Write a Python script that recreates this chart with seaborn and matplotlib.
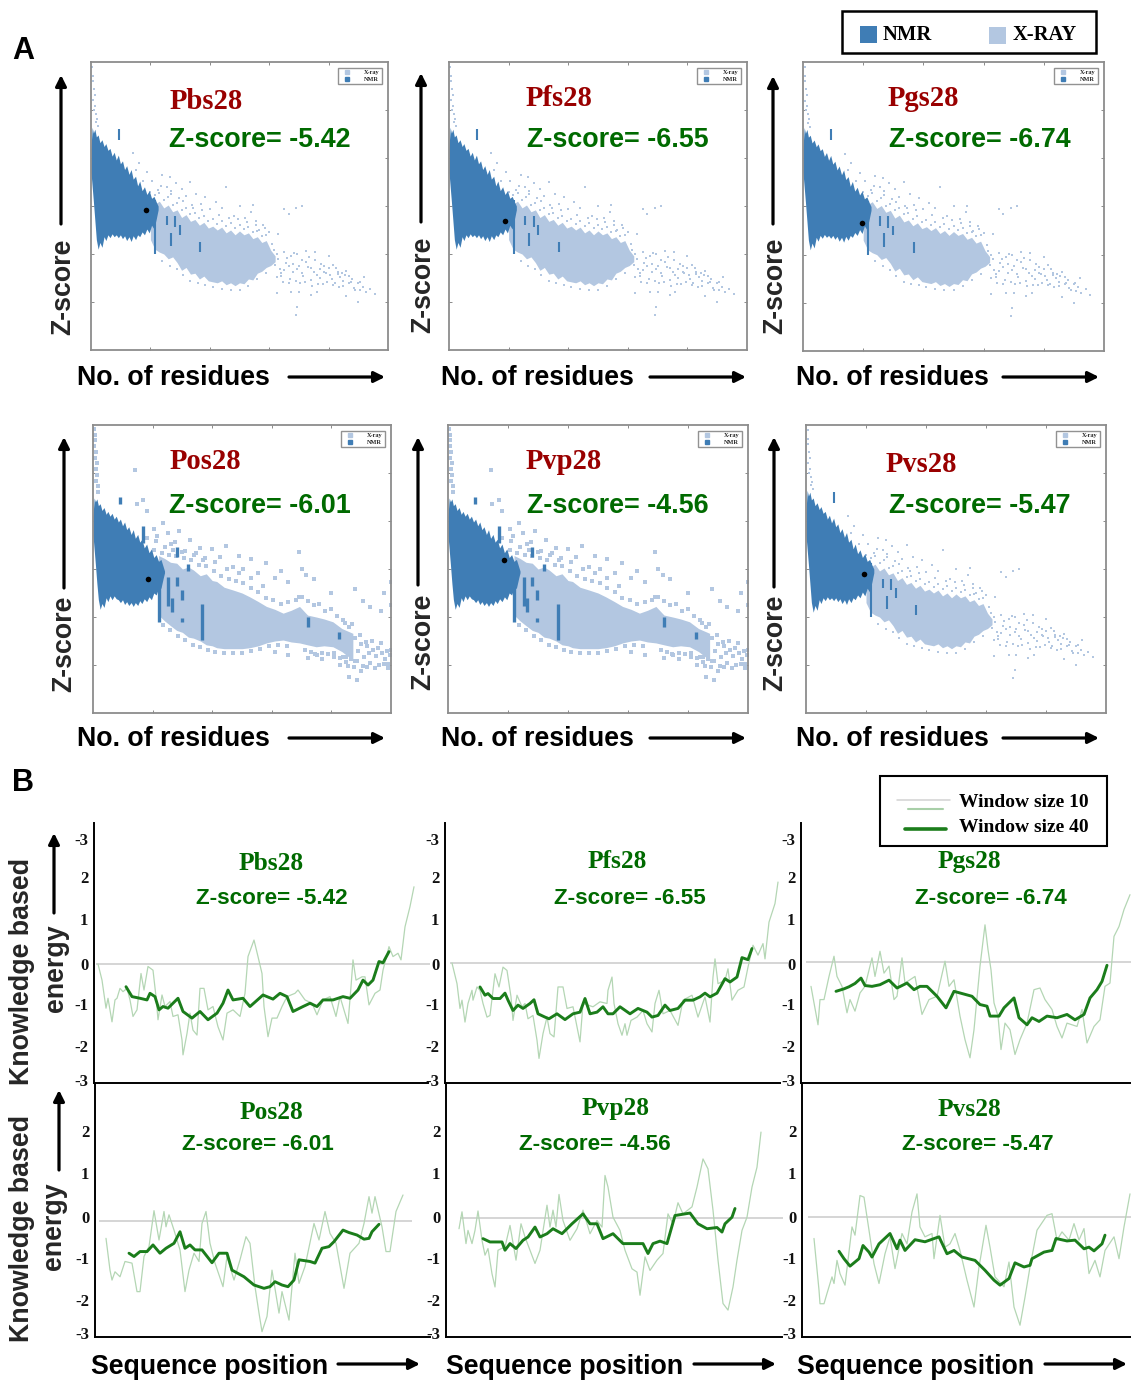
import matplotlib
matplotlib.use("Agg")
import matplotlib.pyplot as plt
import seaborn as sns
from matplotlib.lines import Line2D
from matplotlib.patches import Rectangle

# ---- panel A : Z-score vs no. of residues ----
# thin cloud (Pbs, Pfs, Pgs, Pvs)
nmr_x = [0,4,8,13,18,24,30,37,44,50,57,64,71,78,85,92,99,106,113,120,128,135,142,150,157,164,172,180,188,196,204,212,220,226]
nmr_up = [1.0,3.2,2.6,3.0,2.2,2.4,1.6,1.9,1.2,1.5,0.8,1.0,0.2,0.6,-0.2,0.3,-0.6,-0.3,-1.2,-0.8,-1.7,-1.2,-2.2,-1.9,-2.9,-2.4,-3.4,-3.0,-3.8,-3.4,-4.2,-4.0,-4.6,-5.0]
nmr_lo = [-1.5,-3,-4.5,-6.5,-8.5,-9.5,-8.8,-9.3,-8.2,-8.6,-8.0,-8.3,-7.9,-8.2,-8.0,-8.3,-8.0,-8.4,-8.1,-8.6,-8.2,-8.7,-8.1,-8.5,-8.0,-8.2,-7.7,-8.0,-7.4,-7.8,-7.0,-7.4,-6.3,-5.4]
xray_x = [200,215,230,245,260,275,290,305,320,335,350,365,380,395,410,425,440,455,470,485,500,515,530,545,560,575,590,605,620]
xray_up = [-4.3,-4.8,-4.5,-5.2,-4.9,-5.6,-5.4,-6.2,-5.9,-6.6,-6.4,-7.0,-6.7,-7.3,-7.1,-7.5,-7.2,-7.8,-7.5,-8.0,-7.6,-8.0,-7.8,-8.4,-8.2,-8.8,-8.6,-9.6,-10.2]
xray_lo = [-8.5,-9.5,-9.8,-10.0,-10.5,-10.3,-10.9,-11.7,-11.4,-12.1,-12.0,-12.6,-12.3,-12.8,-12.9,-13.0,-12.8,-13.2,-13.0,-13.3,-13.0,-13.1,-12.6,-12.7,-12.0,-11.8,-11.4,-11.2,-10.8]
sparse_x = [5,8,6,10,12,8,14,10,16,20,18,24,140,160,190,205,225,240,255,265,270,285,295,305,320,335,340,355,370,385,400,420,440,455,480,500,520,540,545,555,565,580,600,630,650,665,690,710,600,610,625,640,650,665,680,695,710,725,740,755,770,785,800,815,830,850,870,885,900,900,675,625,700,740,760,690,695,906,920,860]
sparse_z = [9.5,8.5,8,7.2,6.6,6,5.4,5,4.6,4.1,3.7,3.3,0.5,-0.5,-1.5,-2.4,-3.3,-1.8,-3.0,-2.0,-3.8,-2.6,-4.2,-3.2,-4.0,-2.5,-4.9,-3.7,-4.8,-4.1,-5.3,-4.6,-5.2,-3.0,-6.0,-5.0,-6.3,-5.6,-4.9,-6.6,-7.5,-7.0,-7.7,-7.9,-5.3,-5.8,-5.2,-5.0,-11,-9,-10,-12,-9.8,-13,-11,-10,-12,-9.7,-11.5,-10.6,-12.5,-11.3,-10.2,-13.2,-12.1,-12.8,-12.3,-13.5,-15,-13,-14,-14.1,-14,-14.3,-14,-16.4,-15.5,-13.8,-12.4,-14.4]
tail_x = [610,620,630,640,650,660,670,680,690,700,710,720,730,740,750,760,770,780,790,800,810,820,830,840,850,860,870,880,890,905,915,925,940,955,615,635,655,675,695,715,735,755,775,795,815,835,855,875,625,645,665,685,705,725,745,765,785,805,825,845]
tail_z = [-10.2,-11.1,-10.5,-12.3,-11.7,-10.4,-12.6,-11.9,-12.8,-11.2,-10.6,-12.9,-11.4,-12.7,-11.9,-12.2,-11.6,-13.1,-12.0,-11.5,-12.6,-13.0,-11.9,-12.4,-13.3,-11.8,-13.0,-12.6,-13.7,-12.9,-13.4,-14.0,-13.6,-14.2,-9.6,-11.6,-10.9,-10.2,-11.6,-12.3,-10.3,-9.8,-11.0,-12.9,-11.1,-13.4,-12.2,-12.9,-12.4,-12.9,-11.3,-9.9,-13.0,-10.8,-13.3,-13.1,-11.9,-12.2,-11.5,-12.0]
fringe_x = [150,175,200,215,230,245,260,275,290,305,320,335,350,365,380,395,410,425,440,455,470,485,500,515,530,545,560,575,590,235,270,310,345,375,430,465,495,525,555,585,240,265,290,310,335,360,385,410,440,470,500,530,560,590]
fringe_z = [-1.2,-2.4,-3.5,-3.9,-3.6,-4.4,-4.1,-4.9,-4.7,-5.4,-5.2,-5.8,-5.7,-6.3,-6.0,-6.6,-6.4,-6.9,-6.6,-7.1,-6.8,-7.3,-7.0,-7.4,-7.2,-7.7,-7.6,-8.1,-8.0,-2.9,-3.4,-4.5,-5.2,-5.4,-5.9,-6.2,-6.4,-6.7,-7.0,-7.3,-10.7,-11.2,-11.6,-12.2,-12.8,-13.0,-13.2,-13.4,-13.6,-13.7,-13.7,-13.3,-12.6,-12.0]
bar_x = [93,217,256,284,300,270,368]
bar_lo = [1.9,-10,-7,-7.2,-8,-9.2,-9.8]
bar_hi = [3.0,-4.4,-6,-6,-7,-7.8,-8.7]

# thick cloud (Pos, Pvp)
nmr2_x = [0,4,8,13,18,24,30,37,44,50,57,64,71,78,85,92,99,106,113,120,128,135,142,150,157,164,172,180,188,196,204,212,220,228,236,240]
nmr2_up = [0.5,2.4,2.0,2.3,1.6,1.8,1.1,1.4,0.7,1.0,0.5,0.8,0.2,0.5,-0.1,0.2,-0.5,-0.1,-0.9,-0.6,-1.4,-0.9,-1.8,-1.4,-2.2,-1.9,-2.8,-2.4,-3.3,-2.9,-3.8,-3.5,-4.2,-4.0,-4.8,-5.2]
nmr2_lo = [-1.5,-3,-4.5,-6.5,-8.2,-9.2,-8.6,-9.0,-8.0,-8.4,-7.8,-8.2,-7.8,-8.1,-8.2,-8.5,-8.2,-8.7,-8.4,-8.8,-8.5,-8.9,-8.5,-8.8,-8.3,-8.6,-8.1,-8.4,-7.9,-8.2,-7.5,-7.7,-7.0,-7.0,-5.9,-5.4]
xray2_x = [220,240,260,281,300,320,337,360,380,400,415,440,471,500,526,555,582,610,638,665,693,720,749,775,805,835,872]
xray2_up = [-3.6,-3.9,-4.3,-4.4,-5.0,-4.8,-5.1,-5.7,-5.5,-6.2,-6.3,-6.9,-7.2,-7.5,-7.9,-8.4,-8.9,-9.2,-9.6,-9.3,-8.9,-9.8,-10.0,-10.2,-10.5,-11.2,-11.7]
xray2_lo = [-9.8,-10.4,-10.9,-11.4,-11.6,-12.1,-12.2,-12.5,-12.9,-13.0,-13.2,-13.3,-13.3,-13.3,-13.2,-13.0,-12.7,-12.5,-12.4,-12.6,-12.7,-12.9,-13.1,-13.0,-13.1,-13.6,-14.5]
sparse2_x = [4,6,8,5,10,7,12,9,14,11,16,18,142,169,148,180,205,215,235,250,262,275,290,310,325,345,360,375,400,425,445,470,490,505,530,555,580,610,630,655,690,700,715,740,800,880,905,930,965,975,1000,1000,610,655,720,745,770,810,830,850,880,900,920,860,885,990,1000]
sparse2_z = [9.6,9,8.4,7.8,7.2,6.6,6,5.4,4.8,4.2,3.6,3.0,5.3,2.2,1.8,1.0,-0.8,-1.6,-0.2,-1.2,-2.4,-2.2,-1.0,-3.1,-2.0,-3.3,-2.8,-3.9,-2.9,-3.7,-2.6,-4.8,-3.6,-5.0,-4.0,-5.4,-4.4,-5.9,-5.2,-6.4,-3.2,-5.0,-5.6,-6.0,-7.5,-7.1,-8.3,-9.0,-9.4,-7.5,-8.8,-6.4,-13.6,-14.0,-14.3,-13.9,-14.4,-14.2,-15.0,-14.2,-14.6,-15.6,-15.2,-16.2,-16.6,-14.9,-13.4]
tail2_x = [880,890,900,910,920,930,940,950,960,970,980,990,885,895,905,915,925,935,945,955,965,975,985,995,840,850,860,870,845,855,865,875,700,720,740,760,780,800,820,840,710,730,750,770,790,810,830]
tail2_z = [-12.2,-13.5,-12.8,-14.2,-13.0,-14.8,-13.4,-14.1,-15.0,-13.7,-14.4,-15.3,-14.6,-11.9,-15.1,-12.6,-13.8,-12.5,-15.3,-13.2,-12.7,-14.9,-13.5,-14.0,-14.2,-14.7,-11.0,-10.7,-10.6,-15.1,-14.4,-15.2,-7.9,-8.3,-8.8,-8.6,-9.4,-9.2,-9.9,-10.3,-13.4,-13.6,-14.0,-13.7,-13.9,-13.8,-14.3]
fringe2_x = [180,205,230,255,280,305,330,355,380,405,430,455,480,505,530,555,580,605,630,655,680,690,210,240,270,300,340,370,410,450,490,530,570,235,260,285,310,335,360,385,410,440,470,500,530,560,590,620,650]
fringe2_z = [-1.8,-3.0,-3.3,-3.5,-3.6,-3.9,-4.1,-4.6,-4.7,-5.2,-5.7,-6.0,-6.2,-6.5,-7.0,-7.4,-8.0,-8.2,-8.6,-8.4,-8.2,-7.9,-2.1,-2.7,-3.0,-3.2,-3.5,-4.1,-4.3,-5.0,-5.4,-5.9,-6.8,-10.8,-11.4,-12.0,-12.4,-12.9,-13.1,-13.4,-13.6,-13.8,-13.8,-13.7,-13.5,-13.3,-13.0,-12.9,-13.0]
bar2_x = [91,169,220,253,264,281,281,298,298,320,365,721,827]
bar2_lo = [1.8,-2.3,-10.5,-8.9,-9.5,-3.7,-6.8,-8.2,-10.5,-5.2,-12.4,-11,-12.3]
bar2_hi = [2.5,-0.5,-5,-5.8,-8,-2.7,-5.8,-7.2,-10.1,-4.5,-8.6,-10,-11.6]

query_names = ["Pbs28", "Pfs28", "Pgs28", "Pos28", "Pvp28", "Pvs28"]
query_res = [185, 188, 196, 185, 188, 193]
query_z = [-5.42, -6.55, -6.74, -6.01, -4.1, -5.47]
score_labels = ["-5.42", "-6.55", "-6.74", "-6.01", "-4.56", "-5.47"]

# ---- panel B : knowledge based energy, window size 10 / 40 ----
pbs_thin_x = [4,8,12,14,18,21,23,26,29,33,36,39,43,47,50,54,59,62,64,68,71,76,79,84,88,89,93,96,99,103,106,110,114,119,124,129,133,139,146,151,154,160,164,168,170,174,178,183,188,193,201,204,211,218,223,229,236,242,246,254,257,259,262,268,271,275,281,286,289,295,299,304,307,311,316,320]
pbs_thin_y = [0,-.39,-1.07,-.83,-1.4,-.87,-.83,-.59,-.67,-.59,-.87,-1.27,-1.11,-.23,-.63,-.06,-.15,-.79,-1.35,-.75,-1.03,-.91,-1.27,-1.23,-1.84,-2.2,-1.68,-1.19,-1.6,-1.72,-.59,-.59,-1.11,-1.03,-1.52,-1.84,-1.19,-1.11,-1.27,-.71,.18,.58,.18,-.23,-1.03,-1.76,-1.31,-1.31,-1.03,-.79,-.71,-.63,-.87,-.95,-1.23,-.87,-.79,-1.27,-.79,-1.44,-.55,.1,-.39,-.31,-.31,-.99,-.71,-.63,-.15,.42,.18,.26,.1,.9,1.39,1.87]
pbs_thick_x = [32,38,46,53,56,61,65,69,74,79,84,89,98,106,114,123,129,134,139,149,156,169,179,186,193,199,209,216,223,229,239,249,256,264,269,274,279,285,289,295]
pbs_thick_y = [-.55,-.79,-.83,-.87,-.71,-.79,-1.11,-1.03,-1.07,-.95,-.83,-1.15,-1.31,-1.15,-1.35,-1.19,-.95,-.63,-.87,-.83,-1.03,-.75,-.85,-.71,-.79,-1.15,-1.03,-.95,-1.03,-.87,-.87,-.79,-.83,-.63,-.39,-.51,-.39,.06,.03,.3]

pfs_thin_x = [7,12,15,17,20,23,27,28,32,35,38,42,45,50,54,58,62,66,68,72,77,80,83,88,92,94,98,102,105,109,113,118,122,128,135,138,148,155,162,163,167,169,173,177,180,182,186,192,198,202,207,210,214,218,225,233,238,247,253,260,265,268,270,273,280,283,287,293,299,303,308,313,318,320,324,330,333]
pfs_thin_y = [0,-.5,-1.1,-.9,-1.43,-.98,-.66,-.9,-.58,-.66,-.98,-1.31,-1.27,-.26,-.58,-.1,-.18,-.82,-1.39,-.78,-1.06,-.98,-1.35,-1.27,-1.87,-2.31,-1.71,-1.31,-1.71,-1.79,-.58,-.58,-1.1,-1.06,-1.91,-.98,-1.06,-.94,-.98,-.66,-.34,-.98,-1.47,-1.75,-1.47,-1.75,-1.39,-1.31,-1.15,-1.47,-1.67,-.98,-.66,-1.23,-1.15,-1.51,-.9,-.78,-1.31,-.82,-1.43,-.34,.1,-.5,-.42,-.14,-.9,-.66,-.58,-.1,.43,.19,.47,.1,.99,1.44,1.96]
pfs_thick_x = [35,40,43,48,55,60,63,68,73,78,85,89,93,100,104,112,120,128,135,140,145,152,158,163,168,175,185,193,202,207,213,220,225,233,240,248,255,260,265,272,280,285,292,297,303,307]
pfs_thick_y = [-.58,-.78,-.74,-.86,-.86,-.73,-.9,-1.15,-1.02,-1.1,-.98,-.89,-1.23,-1.31,-1.35,-1.23,-1.37,-1.23,-1.19,-.86,-1.23,-1.19,-1.06,-1.23,-1.23,-1.06,-1.23,-1.1,-1.19,-1.31,-1.27,-1.02,-1.15,-1.1,-.9,-.9,-.82,-.73,-.82,-.73,-.38,-.46,-.34,.13,.08,.35]

pgs_thin_x = [10,13,17,19,23,28,33,36,41,46,49,54,59,64,71,74,79,83,88,93,96,101,104,114,121,128,136,144,148,153,159,164,169,173,179,184,187,190,193,197,200,204,209,214,219,226,233,239,244,251,256,261,266,276,281,286,293,299,304,309,313,318,323,329]
pgs_thin_y = [-.59,-.99,-1.52,-.91,-.91,-.35,.14,-.35,-.59,-1.23,-.91,-1.19,-.75,-.59,.1,-.35,.26,-.27,-.1,-.91,-.83,.1,-.51,-.35,-1.27,-.91,-.83,.02,-.59,-.43,-1.31,-1.88,-2.32,-1.64,-.1,.9,.3,-.19,-.99,-1.31,-2.12,-1.48,-1.64,-2.24,-1.88,-1.48,-.67,-.63,-.91,-1.15,-1.56,-1.84,-1.48,-1.56,-1.15,-1.96,-1.56,-1.4,-.59,-.51,.62,.86,1.27,1.63]
pgs_thick_x = [35,43,48,54,60,64,71,79,88,96,106,113,119,126,136,145,153,159,171,179,186,189,198,203,213,218,226,231,238,246,256,266,274,283,289,296,301,306]
pgs_thick_y = [-.71,-.65,-.6,-.52,-.39,-.57,-.59,-.55,-.44,-.63,-.51,-.67,-.59,-.59,-.83,-1.11,-.71,-.75,-.83,-1.03,-1.07,-1.31,-1.31,-1.11,-.87,-1.35,-1.52,-1.35,-1.44,-1.31,-1.35,-1.27,-1.4,-1.27,-.87,-.67,-.47,-.08]

pos_thin_x = [11,15,17,20,25,30,37,42,45,49,54,59,64,69,71,74,79,85,90,94,99,104,107,111,115,120,128,132,139,145,151,155,160,164,167,172,177,184,187,194,200,204,210,219,224,230,235,241,249,255,264,269,274,277,280,287,291,295,301,308]
pos_thin_y = [-.42,-1.19,-1.43,-1.23,-1.35,-.98,-1.02,-1.71,-1.71,-.86,-.62,.25,-.46,.23,-.14,.15,-.22,-.7,-1.71,-1.19,-.78,-.98,-.06,.23,-.54,-1.02,-1.59,-.86,-1.43,-.94,-.38,-.54,-1.59,-2.23,-2.68,-2.31,-1.19,-2.23,-1.71,-2.4,-.78,-1.51,-1.1,-.06,-.46,.23,-.3,-.54,-1.63,-.78,-.54,-.06,.59,.19,.59,-.14,-.74,-.74,.23,.63]
pos_thick_x = [34,39,45,52,58,65,71,79,85,90,95,100,107,117,124,132,137,149,159,169,175,180,187,193,199,204,215,220,227,234,239,248,254,262,269,274,277,284]
pos_thick_y = [-.78,-.86,-.74,-.74,-.58,-.78,-.66,-.54,-.26,-.66,-.58,-.7,-.7,-1.01,-.78,-.78,-1.19,-1.35,-1.55,-1.63,-1.59,-1.47,-1.55,-1.59,-1.43,-.94,-.98,-1.02,-.66,-.62,-.5,-.22,-.28,-.34,-.44,-.42,-.26,-.08]

pvp_thin_x = [13,16,20,22,26,29,32,36,39,42,46,49,52,59,64,70,75,79,84,89,94,101,104,107,110,113,117,124,131,137,144,151,156,159,162,167,174,179,186,191,194,199,204,211,217,222,227,232,237,246,251,257,262,267,272,277,282,287,291,296,301,306,311,315]
pvp_thin_y = [-.26,.15,-.62,-.3,-.62,-.3,.17,-.54,-.9,-.74,-1.35,-1.67,-.78,-.7,-.18,-1.02,-.14,-.46,-.78,-1.1,-.78,.31,-.22,.19,-.22,.57,-.06,-.54,-.26,.19,-.38,-.06,-.22,1.03,.75,.02,-.3,-.78,-1.23,-1.31,-1.87,-.94,-1.27,-1.02,-.86,.1,-.14,.37,.1,.27,.75,1.43,1.19,.19,-1.02,-2.07,-2.23,-1.67,-1.02,-.3,.02,.75,1.23,2.08]
pvp_thick_x = [37,44,56,59,64,70,77,82,89,94,101,107,116,126,137,144,151,157,167,177,187,197,202,207,214,221,229,244,252,261,271,276,279,286,289]
pvp_thick_y = [-.5,-.58,-.58,-.78,-.62,-.74,-.54,-.46,-.22,-.46,-.38,-.26,-.38,-.14,.1,-.14,-.14,-.5,-.38,-.62,-.62,-.62,-.86,-.62,-.56,-.62,.06,.12,-.14,-.26,-.23,-.34,-.14,.02,.23]

pvs_thin_x = [12,17,18,22,25,30,32,35,38,43,50,53,58,62,67,72,77,83,88,93,100,105,110,115,118,123,130,132,138,143,148,153,158,165,172,177,184,188,193,202,207,212,218,223,228,235,245,250,255,260,267,272,277,282,287,293,298,303,312,317,322,328]
pvs_thin_y = [-.52,-1.77,-2.1,-2.1,-1.85,-1.45,-1.61,-1.05,-1.37,-1.65,-.24,-.44,.52,.48,-.32,-1.13,-1.61,-.89,-.48,-1.25,-.4,-.65,.12,.56,-.24,-.48,-.4,-1.01,.04,-.73,-.65,-.4,-.81,-1.53,-2.18,-1.21,-.2,-.73,-1.45,-1.69,-1.09,-2.18,-2.62,-1.94,-1.21,-.32,.04,.08,-.56,-.36,-.56,-.16,-.56,-.28,-1.37,-1.05,-1.45,-.81,-.48,-1.01,-.24,.56]
pvs_thick_x = [37,42,48,57,61,67,70,77,88,95,98,103,113,123,137,145,152,160,173,183,192,198,207,213,222,228,230,242,250,254,265,273,282,287,292,300,303]
pvs_thick_y = [-.83,-1.01,-1.19,-1.01,-.69,-.85,-.97,-.65,-.4,-.77,-.56,-.81,-.55,-.6,-.48,-.89,-.81,-.97,-1.05,-1.29,-1.53,-1.65,-1.49,-1.11,-1.21,-1.17,-1.01,-.85,-.81,-.52,-.58,-.56,-.77,-.73,-.82,-.65,-.44]

ticks_top = [3.03, 2.1, 1.09, 0, -.97, -1.98, -2.8]
labels_top = ["-3", "2", "1", "0", "-1", "-2", "-3"]
ticks_low = [2.08, 1.06, 0, -.99, -2, -2.8]
labels_low = ["2", "1", "0", "-1", "-2", "-3"]

W, H = 1131, 1380
NMR_COL = "#3f7db5"
XRAY_COL = "#b3c7e1"
RED = "#990000"
GREEN = "#006a00"
SERIF = "Liberation Serif"
SANS = "Liberation Sans"

sns.set_theme(style="white")
fig = plt.figure(figsize=(W / 100, H / 100), dpi=100)


def box(l, t, r, b):
    return [l / W, 1 - b / H, (r - l) / W, (b - t) / H]


# scatter panels
a_boxes = [(91, 62, 388, 350), (449, 62, 747, 350), (803, 62, 1104, 351),
           (93, 425, 391, 713), (448, 425, 748, 713), (806, 425, 1106, 713)]
thick_cloud = [False, False, False, True, True, False]

for i, b in enumerate(a_boxes):
    ax = fig.add_axes(box(*b))
    if thick_cloud[i]:
        cl = (nmr2_x, nmr2_up, nmr2_lo, xray2_x, xray2_up, xray2_lo, bar2_x, bar2_lo, bar2_hi)
        dots_x, dots_z = sparse2_x + tail2_x + fringe2_x, sparse2_z + tail2_z + fringe2_z
        dot_size, bar_lw = 8, 2.4
    else:
        cl = (nmr_x, nmr_up, nmr_lo, xray_x, xray_up, xray_lo, bar_x, bar_lo, bar_hi)
        dots_x, dots_z = sparse_x + tail_x + fringe_x, sparse_z + tail_z + fringe_z
        dot_size, bar_lw = 4, 1.5
    ax.fill_between(cl[3], cl[5], cl[4], color=XRAY_COL, lw=0)
    sns.scatterplot(x=dots_x, y=dots_z, ax=ax, color=XRAY_COL, marker="s", s=dot_size, linewidth=0)
    ax.fill_between(cl[0], cl[2], cl[1], color=NMR_COL, lw=0)
    ax.vlines(cl[6], cl[7], cl[8], color=NMR_COL, lw=bar_lw)
    sns.scatterplot(x=[query_res[i]], y=[query_z[i]], ax=ax, color="black", s=16, linewidth=0, zorder=5)
    ax.set_xlim(0, 1000)
    ax.set_ylim(-20, 10)
    ax.set_xticks([200, 400, 600, 800])
    ax.set_yticks([-15, -10, -5, 0, 5])
    ax.tick_params(direction="in", length=2, width=0.6, color="#777777", top=True, right=True,
                   bottom=True, left=True, labelbottom=False, labelleft=False)
    for s in ax.spines.values():
        s.set_color("#8c8c8c")
        s.set_linewidth(1.3)
    hnd = [Line2D([], [], ls="", marker="s", ms=2.5, color=XRAY_COL, label="X-ray"),
           Line2D([], [], ls="", marker="s", ms=2.5, color=NMR_COL, label="NMR")]
    ax.legend(handles=hnd, loc="upper right", frameon=True, fancybox=False, edgecolor="#777777",
              borderpad=0.35, labelspacing=0.2, handletextpad=1.6, handlelength=2.2,
              bbox_to_anchor=(0.98, 0.98), borderaxespad=0,
              prop={"family": SERIF, "weight": "bold", "size": 4.5})

# energy panels
b_boxes = [(94, 823, 428, 1083), (445, 823, 780, 1083), (801, 823, 1131, 1083),
           (95, 1083, 430, 1337), (446, 1083, 782, 1337), (802, 1083, 1131, 1337)]
zero_px = [964, 963, 962, 1221, 1218, 1217]
zero_span = [(2, 336), (5, 343), (5, 330), (4, 317), (14, 337), (6, 329)]
thin_x = [pbs_thin_x, pfs_thin_x, pgs_thin_x, pos_thin_x, pvp_thin_x, pvs_thin_x]
thin_y = [pbs_thin_y, pfs_thin_y, pgs_thin_y, pos_thin_y, pvp_thin_y, pvs_thin_y]
thick_x = [pbs_thick_x, pfs_thick_x, pgs_thick_x, pos_thick_x, pvp_thick_x, pvs_thick_x]
thick_y = [pbs_thick_y, pfs_thick_y, pgs_thick_y, pos_thick_y, pvp_thick_y, pvs_thick_y]
PX_PER_UNIT = 41.3

for i, b in enumerate(b_boxes):
    ax = fig.add_axes(box(*b))
    ax.patch.set_alpha(0)
    ax.set_xlim(0, b[2] - b[0])
    ax.set_ylim((b[3] - zero_px[i]) / -PX_PER_UNIT, (zero_px[i] - b[1]) / PX_PER_UNIT)
    ax.hlines(0, zero_span[i][0], zero_span[i][1], color="#d2d2d2", lw=1.3, clip_on=False)
    sns.lineplot(x=thin_x[i], y=thin_y[i], ax=ax, sort=False, estimator=None, errorbar=None, color="#b4d6b4", lw=0.9)
    sns.lineplot(x=thick_x[i], y=thick_y[i], ax=ax, sort=False, estimator=None, errorbar=None, color="#1b7d1b", lw=2.1)
    if i < 3:
        ticks, labels = ticks_top, labels_top
        ref = 964
    else:
        ticks, labels = ticks_low, labels_low
        ref = 1217
    ax.set_yticks([t + (zero_px[i] - ref) / PX_PER_UNIT for t in ticks])
    ax.set_yticklabels(labels, family=SERIF, weight="bold", size=12, color="#111111")
    ax.set_xticks([])
    ax.tick_params(axis="y", length=0, pad=4)
    sns.despine(ax=ax)
    for s in ["left", "bottom"]:
        ax.spines[s].set_color("black")
        ax.spines[s].set_linewidth(1.4)

# everything else sits on a full figure layer in pixel units
ann = fig.add_axes([0, 0, 1, 1], zorder=10)
ann.set_xlim(0, W)
ann.set_ylim(H, 0)
ann.axis("off")


def arrow(x0, y0, x1, y1):
    ann.annotate("", xy=(x1, y1), xytext=(x0, y0),
                 arrowprops=dict(arrowstyle="-|>", color="black", lw=2.3, mutation_scale=16, shrinkA=0, shrinkB=0))


def sans(x, y, s, size=19.3, color="black", **kw):
    ann.text(x, y + 2, s, family=SANS, weight="bold", size=size, color=color, va="center", **kw)


def sans_up(x, y, s):
    ann.text(x + 2.5, y, s, family=SANS, weight="bold", size=19.3, rotation=90, ha="center", va="center")


def serif(x, y, s, size=20.6, color=RED, **kw):
    ann.text(x, y + 1.5, s, family=SERIF, weight="bold", size=size, color=color, va="center", **kw)


sans(12, 49, "A", size=22)
sans(12, 781, "B", size=22)

# A titles
a_title_x = [170, 526, 888, 170, 526, 886]
a_title_y = [100, 97, 97, 460, 460, 463]
a_z_x = [169, 527, 889, 169, 527, 889]
a_z_y = [138, 138, 138, 504, 504, 504]
for i in range(6):
    serif(a_title_x[i], a_title_y[i], query_names[i])
    sans(a_z_x[i], a_z_y[i], "Z-score= " + score_labels[i], size=19.4, color=GREEN)

# A axis labels and arrows
for x0, x1, x2 in [(77, 289, 385), (441, 650, 746), (796, 1003, 1099)]:
    sans(x0, 376, "No. of residues")
    arrow(x1, 377, x2, 377)
    sans(x0, 737, "No. of residues")
    arrow(x1, 738, x2, 738)
# label x, label bottom, arrow x, arrow bottom, arrow top
for x, yb, xa, ya, yt in [(61, 335, 61, 224, 75), (421, 333, 421, 222, 73), (773, 334, 773, 224, 76),
                          (62, 692, 64, 588, 437), (421, 690, 418, 585, 437), (773, 691, 774, 587, 437)]:
    ann.text(x + 2.5, yb, "Z-score", family=SANS, weight="bold", size=19.3, rotation=90, ha="center", va="bottom")
    arrow(xa, ya, xa, yt)

# top legend
ann.add_patch(Rectangle((842, 11), 254, 42, fc="white", ec="black", lw=1.8))
ann.add_patch(Rectangle((860, 26), 17, 17, fc=NMR_COL, ec="none"))
ann.add_patch(Rectangle((989, 27), 17, 17, fc=XRAY_COL, ec="none"))
serif(883, 34, "NMR", size=14.8, color="black")
serif(1013, 34, "X-RAY", size=14.8, color="black")

# B titles
b_title_x = [271, 617, 969, 271, 616, 969]
b_title_y = [862, 860, 860, 1111, 1107, 1108]
b_z_x = [272, 630, 991, 258, 595, 978]
b_z_y = [896, 897, 897, 1142, 1142, 1142]
for i in range(6):
    serif(b_title_x[i], b_title_y[i], query_names[i], size=18.3, color=GREEN, ha="center")
    sans(b_z_x[i], b_z_y[i], "Z-score= " + score_labels[i], size=16.2, color=GREEN, ha="center")

# B axis labels
for x0, x1, x2 in [(91, 338, 420), (446, 694, 776), (797, 1045, 1127)]:
    sans(x0, 1365, "Sequence position")
    arrow(x1, 1364, x2, 1364)
sans_up(20, 971, "Knowledge based")
sans_up(53, 968, "energy")
arrow(54, 913, 54, 833)
sans_up(20, 1228, "Knowledge based")
sans_up(52, 1226, "energy")
arrow(59, 1170, 59, 1090)

# B legend
ann.add_patch(Rectangle((880, 776), 227, 70, fc="white", ec="black", lw=1.5))
ann.plot([897, 950], [800, 800], color="#d2d2d2", lw=1.1)
ann.plot([908, 943], [809, 809], color="#a8cfa8", lw=1.5)
ann.plot([905, 946], [829, 829], color="#1b7d1b", lw=2.6)
serif(959, 801, "Window size 10", size=14, color="black")
serif(959, 826, "Window size 40", size=14, color="black")

fig.savefig("out.png", dpi=100)
